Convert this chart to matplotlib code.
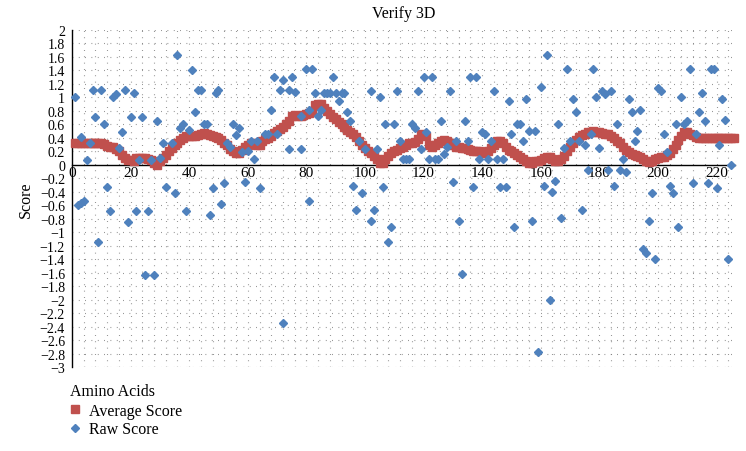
import matplotlib
matplotlib.use("Agg")
import matplotlib.pyplot as plt
from matplotlib.lines import Line2D
from matplotlib.ticker import FixedLocator, FuncFormatter

# average score, residues 1..226
avg_score = [
    0.33, 0.33, 0.33, 0.33, 0.33, 0.33, 0.33, 0.33, 0.33, 0.32,
    0.31, 0.28, 0.27, 0.26, 0.24, 0.20, 0.14, 0.10, 0.07, 0.07,
    0.06, 0.10, 0.10, 0.10, 0.10, 0.09, 0.07, 0.02, 0.00, 0.05,
    0.10, 0.15, 0.20, 0.25, 0.30, 0.33, 0.37, 0.40, 0.42, 0.43,
    0.43, 0.43, 0.44, 0.45, 0.47, 0.46, 0.44, 0.42, 0.41, 0.40,
    0.37, 0.33, 0.30, 0.24, 0.20, 0.18, 0.18, 0.22, 0.27, 0.30,
    0.33, 0.33, 0.30, 0.30, 0.35, 0.38, 0.40, 0.43, 0.47, 0.50,
    0.53, 0.56, 0.60, 0.65, 0.72, 0.74, 0.73, 0.73, 0.74, 0.75,
    0.77, 0.80, 0.88, 0.90, 0.90, 0.84, 0.80, 0.76, 0.71, 0.68,
    0.63, 0.60, 0.56, 0.52, 0.48, 0.45, 0.41, 0.35, 0.30, 0.25,
    0.20, 0.17, 0.13, 0.08, 0.03, 0.02, 0.08, 0.13, 0.17, 0.20,
    0.22, 0.25, 0.27, 0.30, 0.32, 0.33, 0.34, 0.38, 0.45, 0.44,
    0.42, 0.30, 0.27, 0.30, 0.32, 0.36, 0.37, 0.35, 0.33, 0.30,
    0.27, 0.26, 0.25, 0.25, 0.23, 0.22, 0.21, 0.20, 0.20, 0.18,
    0.17, 0.20, 0.25, 0.30, 0.35, 0.36, 0.32, 0.27, 0.22, 0.20,
    0.17, 0.15, 0.12, 0.08, 0.05, 0.03, 0.03, 0.05, 0.06, 0.07,
    0.10, 0.12, 0.11, 0.08, 0.06, 0.05, 0.08, 0.13, 0.20, 0.27,
    0.32, 0.37, 0.41, 0.44, 0.46, 0.48, 0.49, 0.50, 0.49, 0.48,
    0.47, 0.46, 0.45, 0.43, 0.40, 0.36, 0.32, 0.27, 0.22, 0.19,
    0.16, 0.15, 0.13, 0.11, 0.08, 0.05, 0.04, 0.05, 0.08, 0.10,
    0.11, 0.12, 0.14, 0.17, 0.23, 0.30, 0.37, 0.43, 0.48, 0.48,
    0.46, 0.44, 0.41, 0.40, 0.40, 0.40, 0.40, 0.40, 0.40, 0.40,
    0.40, 0.40, 0.40, 0.40, 0.40, 0.40,
]
avg_x = list(range(1, len(avg_score) + 1))

# raw score points that can be seen in the picture
raw_x = [
    1, 2, 3, 3, 4, 5, 6, 7, 8, 9, 10, 11, 12, 13, 14, 15, 16, 17, 18, 19,
    20, 21, 22, 23, 24, 25, 26, 27, 28, 29, 30, 31, 32, 34, 35, 36, 37, 38, 39, 40,
    41, 42, 43, 44, 45, 46, 47, 48, 49, 50, 51, 52, 53, 54, 55, 56, 57, 58, 59, 60,
    61, 62, 63, 64, 66, 67, 68, 69, 70, 71, 72, 72, 74, 74, 75, 76, 78, 78, 80, 81,
    81, 82, 83, 84, 85, 86, 87, 88, 89, 90, 91, 92, 93, 94, 95, 96, 97, 98, 99, 100,
    102, 102, 103, 104, 105, 106, 107, 108, 109, 110, 111, 112, 113, 114, 115, 116, 117, 118, 119, 120,
    121, 122, 123, 124, 125, 126, 127, 128, 129, 130, 131, 132, 133, 134, 135, 136, 137, 138, 139, 140,
    141, 142, 143, 144, 145, 146, 147, 148, 149, 150, 151, 152, 153, 154, 155, 156, 157, 158, 159, 160,
    161, 162, 163, 164, 165, 166, 167, 168, 169, 170, 171, 172, 173, 174, 175, 176, 177, 178, 179, 180,
    181, 182, 183, 184, 185, 186, 187, 188, 189, 190, 191, 192, 193, 194, 195, 196, 197, 198, 199, 200,
    201, 202, 203, 204, 205, 206, 207, 208, 209, 210, 211, 212, 213, 214, 215, 216, 217, 218, 219, 220,
    221, 222, 223, 224, 225,
]
raw_score = [
    1.00, -0.60, 0.41, -0.57, -0.54, 0.07, 0.33, 1.11, 0.71, -1.14, 1.11, 0.60, -0.33, -0.69, 1.00, 1.05, 0.25, 0.48, 1.11, -0.85,
    0.71, 1.06, -0.69, 0.07, 0.71, -1.64, -0.69, 0.07, -1.64, 0.65, 0.10, 0.33, -0.33, 0.33, -0.42, 1.63, 0.55, 0.60, -0.69, 0.52,
    1.41, 0.78, 1.11, 1.11, 0.60, 0.60, -0.75, -0.35, 1.06, 1.11, -0.58, -0.27, 0.33, 0.26, 0.60, 0.44, 0.55, 0.19, -0.25, 0.21,
    0.35, 0.08, 0.35, -0.34, 0.45, 0.45, 0.81, 1.30, 0.45, 1.11, 1.26, -2.35, 1.11, 0.23, 1.30, 1.08, 0.23, 0.73, 1.42, 0.81,
    -0.53, 1.42, 1.07, 0.72, 0.81, 1.07, 1.07, 1.07, 1.31, 1.07, 0.95, 1.07, 1.07, 0.78, 0.65, -0.32, -0.67, 0.35, -0.42, 0.24,
    1.10, -0.83, -0.67, 0.24, 1.00, -0.33, 0.60, -1.14, -0.93, 0.60, 1.10, 0.35, 0.09, 0.09, 0.09, 0.60, 0.55, 1.10, 0.24, 1.31,
    0.48, 0.09, 1.31, 0.09, 0.09, 0.65, 0.16, 0.26, 1.10, -0.25, 0.35, -0.83, -1.62, 0.65, 0.35, 1.31, -0.33, 1.31, 0.09, 0.48,
    0.45, 0.09, 0.35, 1.10, 0.09, -0.33, 0.09, -0.33, 0.94, 0.45, -0.93, 0.60, 0.60, 0.35, 0.98, 0.50, -0.84, 0.50, -2.78, 1.16,
    -0.31, 1.63, -2.00, -0.41, -0.24, 0.60, -0.79, 0.25, 1.42, 0.35, 0.98, 0.78, 0.35, -0.67, 0.30, -0.08, 0.45, 1.42, 1.00, 0.25,
    1.10, 1.05, -0.08, 1.10, -0.32, 0.60, -0.07, 0.09, -0.10, 0.98, 0.78, 0.35, 0.50, 0.81, -1.25, -1.31, -0.83, -0.42, -1.40, 1.14,
    1.10, 0.45, 0.19, -0.32, -0.42, 0.60, -0.93, 1.00, 0.60, 0.65, 1.42, -0.27, 0.45, 0.78, 1.07, 0.65, -0.27, 1.42, 1.42, -0.34,
    0.30, 0.98, 0.66, -1.40, 0.00,
]

x_ticks = [0, 20, 40, 60, 80, 100, 120, 140, 160, 180, 200, 220]
y_ticks = [round(-3 + 0.2 * i, 1) for i in range(26)]

red = "#C0504D"
blue = "#4F81BD"
serif = ["Liberation Serif", "DejaVu Serif"]
plt.rcParams["font.family"] = serif

W, H = 746, 452
fig = plt.figure(figsize=(W / 100, H / 100), dpi=100)
ax = fig.add_axes([72 / W, 1 - 368 / H, (735 - 72) / W, 337 / H])

ax.set_xlim(0, 226.3)
ax.set_ylim(-3, 2)

# dotted grid
for gy in y_ticks:
    if gy != 0:
        ax.axhline(gy, color="#7a7a7a", lw=0.8, ls=(0, (0.7, 5.0)), zorder=0)
for gx in range(4, 227, 4):
    ax.axvline(gx, color="#7a7a7a", lw=0.8, ls=(0, (0.7, 5.0)), zorder=0)

ax.plot(avg_x, avg_score, ls="none", marker="s", ms=6.4, color=red,
        mec=red, zorder=3, clip_on=False, label="Average Score")
ax.plot(raw_x, raw_score, ls="none", marker="D", ms=4.4, color=blue,
        mec=blue, zorder=4, clip_on=False, label="Raw Score")

for s in ["top", "right"]:
    ax.spines[s].set_visible(False)
ax.spines["bottom"].set_position(("data", 0))
ax.spines["bottom"].set_linewidth(1.0)
ax.spines["left"].set_linewidth(1.0)
ax.spines["bottom"].set_zorder(2)

ax.xaxis.set_major_locator(FixedLocator(x_ticks))
ax.yaxis.set_major_locator(FixedLocator(y_ticks))
ax.yaxis.set_major_formatter(FuncFormatter(lambda v, p: f"{v:g}".replace("-", "\u2212")))
ax.tick_params(axis="both", length=0, labelsize=10)
ax.tick_params(axis="x", pad=1, labelsize=11)
ax.tick_params(axis="y", pad=5)

ax.set_title("Verify 3D", fontsize=11.5, pad=9)
ax.set_ylabel("Score", fontsize=11.5, labelpad=4)

fig.text(70 / W, 1 - 392 / H, "Amino Acids", fontsize=11.5, va="center", ha="left")
handles = [
    Line2D([], [], ls="none", marker="s", ms=6.0, color=red),
    Line2D([], [], ls="none", marker="D", ms=4.2, color=blue),
]
fig.legend(handles, ["Average Score", "Raw Score"], loc="upper left",
           bbox_to_anchor=(68 / W, 1 - 404 / H), frameon=False, fontsize=11.5,
           handlelength=0.9, handletextpad=0.4, labelspacing=0.15,
           borderpad=0, borderaxespad=0)

fig.savefig("out.png", dpi=100)
